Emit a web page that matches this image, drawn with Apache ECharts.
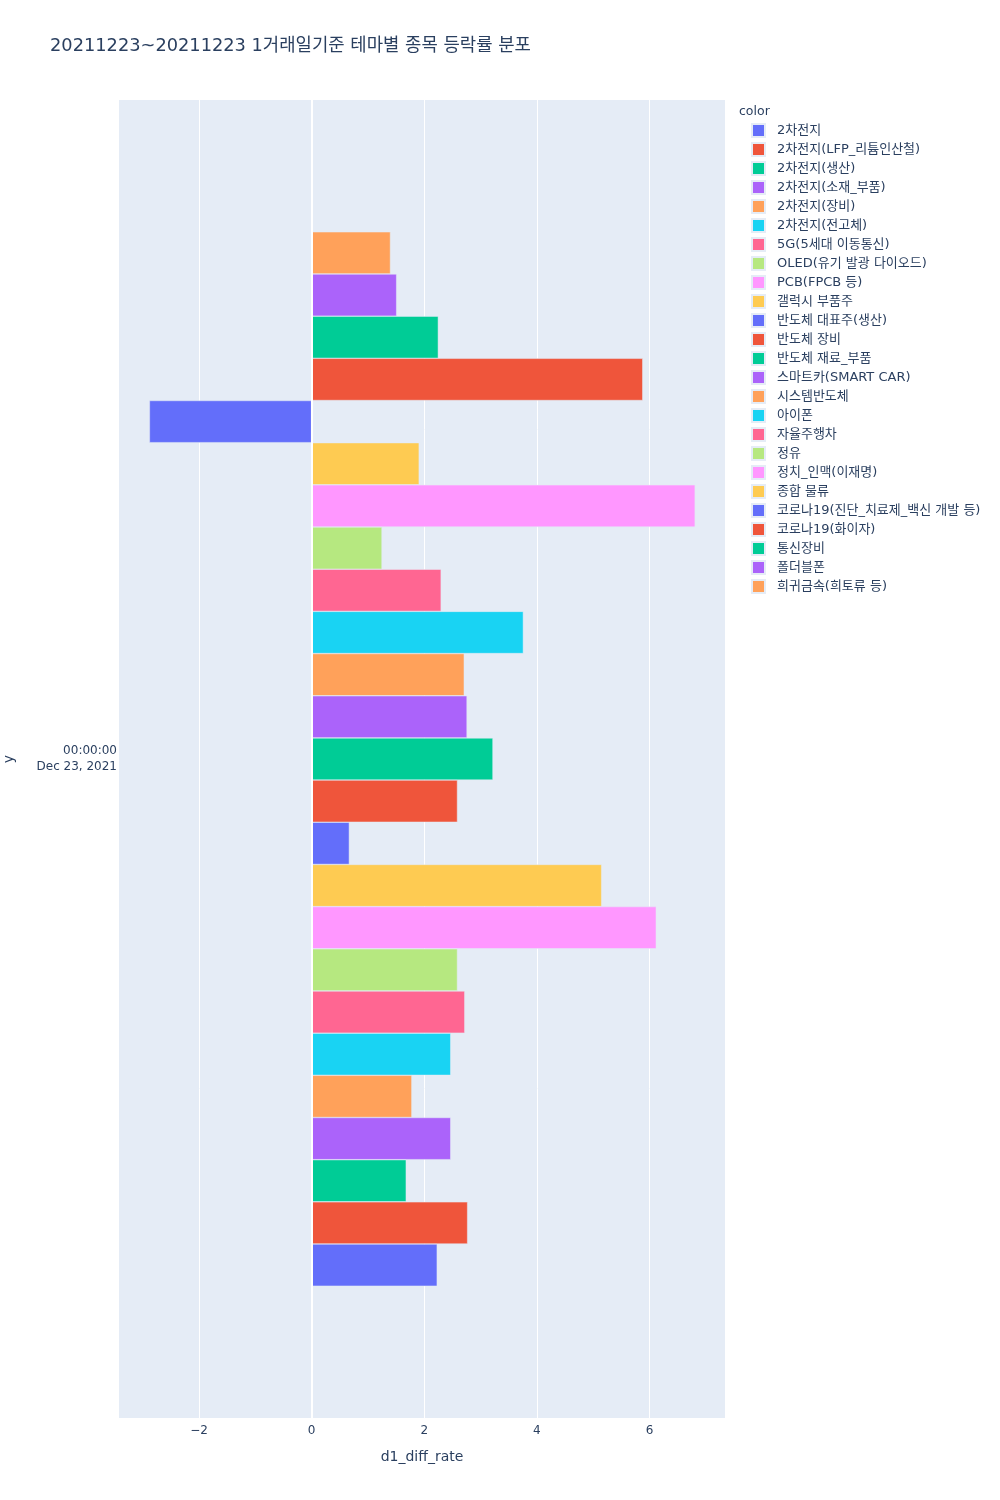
<!DOCTYPE html>
<html>
<head>
<meta charset="utf-8">
<script src="https://cdn.jsdelivr.net/npm/echarts@6/dist/echarts.min.js"></script>
<style>
  html, body { margin: 0; padding: 0; background: #fff; }
  #chart { width: 1000px; height: 1500px; }
</style>
</head>
<body>
<div id="chart"></div>
<script>
const FONT = '"DejaVu Sans", Verdana, "Noto Sans CJK KR", sans-serif';
const TEXT = '#2a3f5f';

const categories = ['00:00:00\nDec 23, 2021'];

const themes = [
  '2차전지', '2차전지(LFP_리튬인산철)', '2차전지(생산)', '2차전지(소재_부품)', '2차전지(장비)',
  '2차전지(전고체)', '5G(5세대 이동통신)', 'OLED(유기 발광 다이오드)', 'PCB(FPCB 등)', '갤럭시 부품주',
  '반도체 대표주(생산)', '반도체 장비', '반도체 재료_부품', '스마트카(SMART CAR)', '시스템반도체',
  '아이폰', '자율주행차', '정유', '정치_인맥(이재명)', '종합 물류',
  '코로나19(진단_치료제_백신 개발 등)', '코로나19(화이자)', '통신장비', '폴더블폰', '희귀금속(희토류 등)'
];

const diffRates = [
  2.23, 2.77, 1.68, 2.47, 1.78,
  2.47, 2.72, 2.59, 6.12, 5.15,
  0.67, 2.59, 3.22, 2.76, 2.71,
  3.76, 2.30, 1.25, 6.81, 1.91,
  -2.88, 5.88, 2.25, 1.51, 1.40
];

const palette = ['#636efa', '#EF553B', '#00cc96', '#ab63fa', '#FFA15A',
                 '#19d3f3', '#FF6692', '#B6E880', '#FF97FF', '#FECB52'];

const xTicks = [-2, 0, 2, 4, 6];

const chart = echarts.init(document.getElementById('chart'));

// echarts stacks grouped bars top-down on a y category axis, plotly goes bottom-up
const series = themes.map((name, i) => ({
  name,
  type: 'bar',
  data: [diffRates[i]],
  barGap: '0%',
  barCategoryGap: '20%',
  itemStyle: { color: palette[i % palette.length], borderColor: '#E5ECF6', borderWidth: 0.5 }
})).reverse();

series[0].markLine = {
  silent: true,
  symbol: 'none',
  label: { show: false },
  lineStyle: { color: '#fff', width: 2, type: 'solid' },
  data: [{ xAxis: 0 }]
};

chart.setOption({
  backgroundColor: '#fff',
  textStyle: { fontFamily: FONT },
  animation: false,
  color: palette,
  title: {
    text: '20211223~20211223 1거래일기준 테마별 종목 등락률 분포',
    left: 45, top: 32,
    textStyle: { fontFamily: FONT, fontSize: 17.8, fontWeight: 'normal', color: TEXT }
  },
  legend: {
    orient: 'vertical',
    left: 746, top: 118,
    data: themes,
    icon: 'rect',
    itemWidth: 13, itemHeight: 13,
    itemGap: 4,
    textStyle: { fontFamily: FONT, fontSize: 13, color: TEXT, padding: [0, 0, 0, 7] }
  },
  graphic: [{
    type: 'text', left: 739, top: 105,
    style: { text: 'color', fontFamily: FONT, fontSize: 12.5, fill: TEXT }
  }],
  grid: {
    left: 119, right: 275, top: 100, bottom: 82,
    outerBoundsMode: 'none',
    backgroundColor: '#E5ECF6', show: true, borderWidth: 0
  },
  xAxis: {
    type: 'value',
    min: -3.42, max: 7.34,
    name: 'd1_diff_rate',
    nameLocation: 'middle',
    nameGap: 32,
    nameTextStyle: { fontFamily: FONT, fontSize: 14, color: TEXT },
    axisLine: { show: false },
    axisTick: { show: false, customValues: xTicks },
    axisLabel: {
      customValues: xTicks,
      fontFamily: FONT, fontSize: 12, color: TEXT, margin: 7,
      formatter: v => v < 0 ? '\u2212' + Math.abs(v) : String(v)
    },
    splitLine: { show: true, lineStyle: { color: '#fff', width: 1 } }
  },
  yAxis: {
    type: 'category',
    data: categories,
    name: 'y',
    nameLocation: 'middle',
    nameGap: 103,
    nameRotate: 90,
    nameTextStyle: { fontFamily: FONT, fontSize: 14, color: TEXT },
    axisLine: { show: false },
    axisTick: { show: false },
    axisLabel: {
      fontFamily: FONT, fontSize: 12, color: TEXT, margin: 2, align: 'right',
      lineHeight: 16, padding: [4, 0, 0, 0]
    },
    splitLine: { show: false }
  },
  series
});
</script>
</body>
</html>
